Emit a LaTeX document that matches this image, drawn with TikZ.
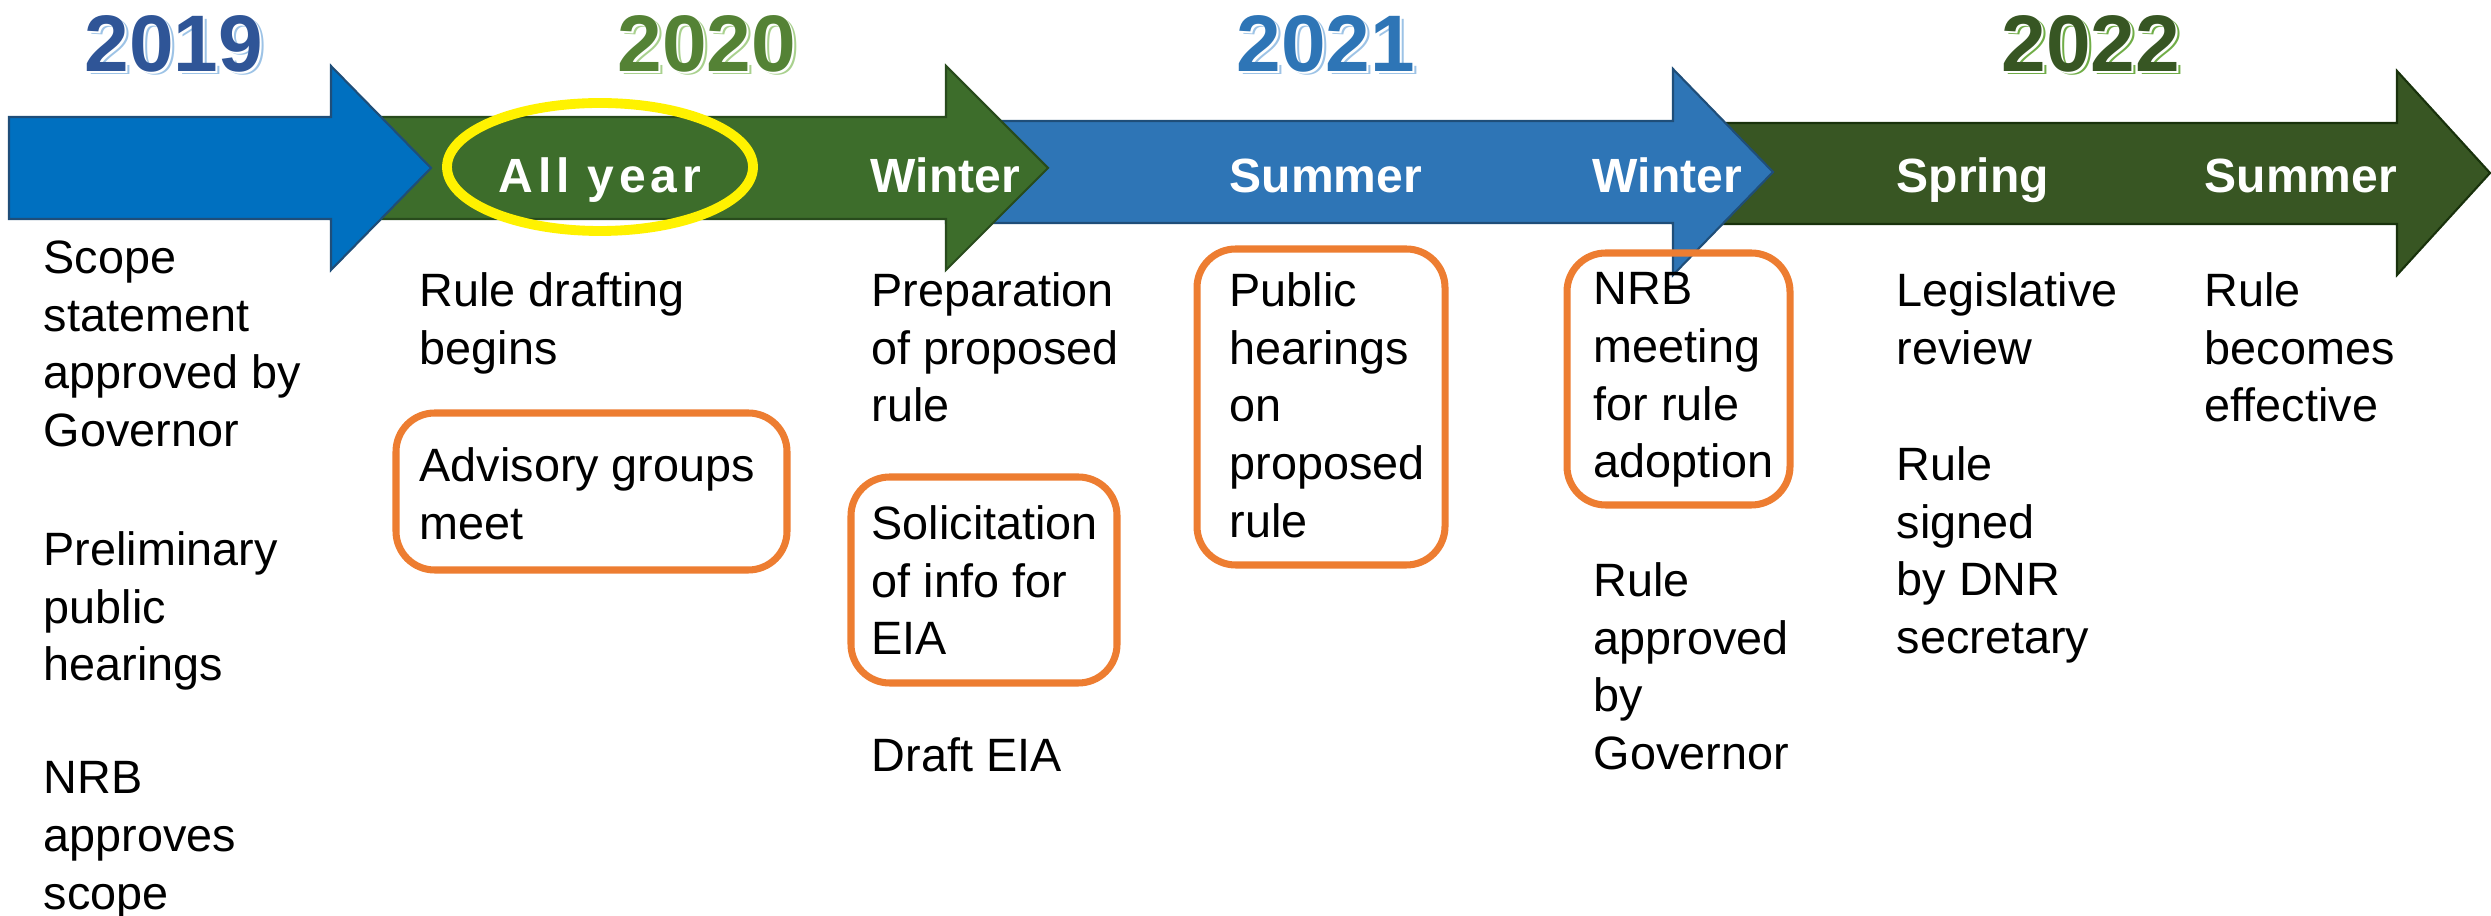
\documentclass[tikz,border=0pt]{standalone}
\usepackage{fontspec}
\setmainfont{Liberation Sans}
\usepackage{tikz}
\usetikzlibrary{positioning}
\definecolor{arrblue}{RGB}{0,112,192}
\definecolor{arrgreen}{RGB}{61,109,43}
\definecolor{arrmid}{RGB}{46,117,182}
\definecolor{arrdark}{RGB}{56,86,35}
\definecolor{edgeblue}{RGB}{31,78,121}
\definecolor{edgegreen}{RGB}{40,75,28}
\definecolor{edgedark}{RGB}{25,50,12}
\definecolor{yrblue}{RGB}{47,85,151}
\definecolor{yrgreen}{RGB}{84,130,53}
\definecolor{yrmid}{RGB}{46,117,182}
\definecolor{yrdark}{RGB}{55,86,35}
\definecolor{shblue}{RGB}{157,195,230}
\definecolor{shgreen}{RGB}{169,209,142}
\definecolor{shdark}{RGB}{112,173,71}
\definecolor{hlorange}{RGB}{237,125,49}
\tikzset{
  tlarrow/.style={line width=0.6pt, line join=miter},
  yearlbl/.style={font=\fontsize{22.8}{26}\selectfont\bfseries, anchor=base west, inner sep=0pt},
  season/.style={font=\fontsize{13.66}{16}\selectfont\bfseries, text=white, anchor=base west, inner sep=0pt},
  item/.style={font=\fontsize{13.3}{16.4}\selectfont, align=left, anchor=north west, inner sep=0pt},
  hlbox/.style={draw=hlorange, line width=2pt, rounded corners=11pt},
  hlring/.style={draw=yellow, line width=2.8pt}
}
\begin{document}
\begin{tikzpicture}[x=0.01cm, y=-0.01cm]
  \useasboundingbox (0,0) rectangle (2491,916);
  % timeline arrows, back to front
  \filldraw[tlarrow, fill=arrdark, draw=edgedark] (1673,123) -- (2397,123) -- (2397,71) -- (2490,173) -- (2397,275) -- (2397,224) -- (1673,224) -- cycle;
  \filldraw[tlarrow, fill=arrmid, draw=edgeblue] (946,121) -- (1673,121) -- (1673,69) -- (1773,172) -- (1673,275) -- (1673,223) -- (946,223) -- cycle;
  \filldraw[tlarrow, fill=arrgreen, draw=edgegreen] (331,117) -- (946,117) -- (946,66) -- (1048,168) -- (946,270) -- (946,219) -- (331,219) -- cycle;
  \filldraw[tlarrow, fill=arrblue, draw=edgeblue] (9,117) -- (331,117) -- (331,66) -- (431,168) -- (331,270) -- (331,219) -- (9,219) -- cycle;

  % years
  \foreach \yr/\x/\main/\shade in {2019/84/yrblue/shblue, 2020/617/yrgreen/shgreen, 2021/1236/yrmid/shblue, 2022/2001/yrdark/shdark} {
    \node[yearlbl, text=\shade] (y\yr s) at (\x+4,75) {\yr};
    \node[yearlbl, text=white] (y\yr w) at (\x+2,73.5) {\yr};
    \node[yearlbl, text=\main] (y\yr) at (\x,72) {\yr};
  }

  % seasons
  \draw[hlring] (600,167) ellipse [x radius=153, y radius=64];
  \node[season, anchor=base, font=\fontsize{13.66}{16}\selectfont\bfseries\addfontfeature{LetterSpace=10}] (allyear) at (600,193) {All year};
  \node[season] (winterA) at (870,193) {Winter};
  \node[season] (summerA) at (1229,193) {Summer};
  \node[season] (winterB) at (1592,193) {Winter};
  \node[season] (spring) at (1896,193) {Spring};
  \node[season] (summerB) at (2204,193) {Summer};

  % highlighted items
  \draw[hlbox] (396,413) rectangle (787,570);
  \draw[hlbox] (851,477) rectangle (1117,683);
  \draw[hlbox] (1197,249) rectangle (1445,565);
  \draw[hlbox] (1567,253) rectangle (1790,505);

  % 2019
  \node[item] (scope) at (43,240) {Scope\\statement\\approved by\\Governor};
  \node[item] (prelim) at (43,531) {Preliminary\\public\\hearings};
  \node[item] (nrbscope) at (43,761) {NRB\\approves\\scope};
  % 2020
  \node[item] (drafting) at (419,272) {Rule drafting\\begins};
  \node[item] (advisory) at (419,447) {Advisory groups\\meet};
  \node[item] (prep) at (871,272) {Preparation\\of proposed\\rule};
  \node[item] (solicit) at (871,505) {Solicitation\\of info for\\EIA};
  \node[item] (draft) at (871,737) {Draft EIA};
  % 2021
  \node[item] (hearings) at (1229,272) {Public\\hearings\\on\\proposed\\rule};
  \node[item] (adoption) at (1593,272) {NRB\\meeting\\for rule\\adoption};
  \node[item] (govapp) at (1593,562) {Rule\\approved\\by\\Governor};
  % 2022
  \node[item] (legis) at (1896,272) {Legislative\\review};
  \node[item] (signed) at (1896,446) {Rule\\signed\\by DNR\\secretary};
  \node[item] (effective) at (2204,272) {Rule\\becomes\\effective};
\end{tikzpicture}
\end{document}
